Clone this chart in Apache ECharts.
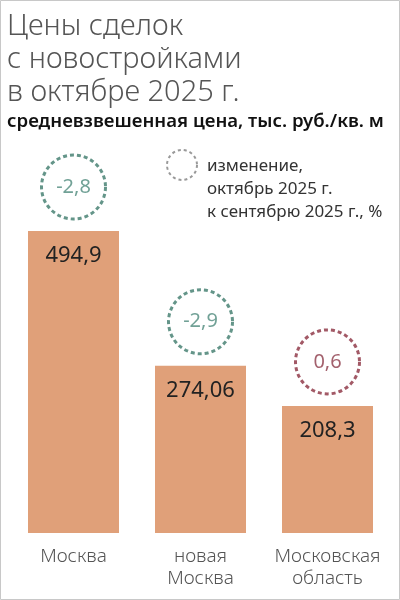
<!DOCTYPE html>
<html><head><meta charset="utf-8">
<script src="https://cdn.jsdelivr.net/npm/echarts@6/dist/echarts.min.js"></script>
<style>html,body{margin:0;padding:0;background:#fff}#c{width:400px;height:600px}</style>
</head><body><div id="c"></div>
<script>
const categories = ['Москва', 'новая\nМосква', 'Московская\nобласть'];
const prices = [494.9, 274.06, 208.3];
const changes = [-2.8, -2.9, 0.6];
const titleLines = ['Цены сделок', 'с новостройками', 'в октябре 2025 г.'];
const subtitle = 'средневзвешенная цена, тыс. руб./кв. м';
const legendLines = ['изменение,', 'октябрь 2025 г.', 'к сентябрю 2025 г., %'];

const fmt = v => String(v).replace('.', ',');
const FONT = '"Noto Sans", "Open Sans", sans-serif';
const chart = echarts.init(document.getElementById('c'), null, {renderer: 'canvas'});
chart.setOption({
  animation: false,
  backgroundColor: '#fff',
  grid: {left: 10, right: 9, top: 231, bottom: 67},
  xAxis: {
    type: 'category', data: categories,
    axisLine: {show: false}, axisTick: {show: false},
    axisLabel: {interval: 0, fontSize: 19, color: '#555', lineHeight: 22, margin: 13, fontFamily: FONT, fontWeight: 300}
  },
  yAxis: {type: 'value', min: 0, max: 494.9, show: false, splitLine: {show: false}},
  graphic: [
    {type: 'rect', shape: {x: 0.5, y: 0.5, width: 399, height: 599}, style: {fill: 'none', stroke: '#c8c8c8', lineWidth: 1}, silent: true},
    {type: 'text', left: 7, top: 10, style: {text: titleLines.join('\n'), fontSize: 29, lineHeight: 33, fill: '#555', fontFamily: FONT, fontWeight: 300}},
    {type: 'text', left: 7, top: 112, style: {text: subtitle, fontSize: 18.6, fill: '#111', fontFamily: FONT, fontWeight: 600}},
    {type: 'circle', shape: {cx: 182, cy: 165, r: 15}, style: {fill: 'none', stroke: '#999', lineWidth: 2, lineDash: [3, 3]}},
    {type: 'text', left: 207, top: 155, style: {text: legendLines.join('\n'), fontSize: 17, lineHeight: 23, fill: '#333', fontFamily: FONT}}
  ],
  series: [
    {
      type: 'bar', data: prices, barWidth: 91,
      itemStyle: {color: '#e0a079'},
      label: {show: true, position: 'insideTop', distance: 14, fontSize: 22, color: '#222', fontFamily: FONT,
        formatter: p => fmt(p.value)}
    },
    {
      type: 'scatter', clip: false,
      data: changes.map((c, i) => ({
        value: prices[i],
        itemStyle: {borderColor: c < 0 ? '#3d7a6c' : '#8b2f40'},
        label: {color: c < 0 ? '#4d8a7c' : '#8c3a48', formatter: fmt(c)}
      })),
      symbol: 'circle', symbolSize: 64, symbolOffset: [0, -44],
      itemStyle: {color: 'rgba(255,255,255,0)', borderType: [4, 3], borderWidth: 3},
      label: {show: true, position: 'inside', fontSize: 20, fontFamily: FONT},
      z: 5
    }
  ]
});
</script></body></html>
